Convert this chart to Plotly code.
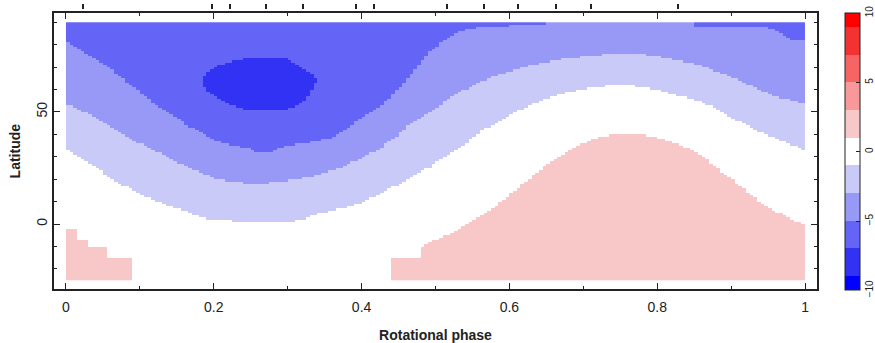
import numpy as np
import plotly.graph_objects as go

# ---- data -----------------------------------------------------------------
# Latitude of each contour boundary versus rotational phase
# boundary between 0 (white) and -2 band
b_m1_phase = [0.0, 0.029, 0.05, 0.074, 0.1, 0.119, 0.14, 0.164, 0.185, 0.203, 0.25, 0.3, 0.32, 0.335,
              0.357, 0.38, 0.402, 0.425, 0.448, 0.47, 0.493, 0.515, 0.538, 0.56, 0.583, 0.605, 0.628,
              0.65, 0.673, 0.695, 0.713, 0.736, 0.759, 0.781, 0.804, 0.826, 0.849, 0.871, 0.894, 0.917,
              0.939, 0.962, 0.984, 1.0]
b_m1_lat = [33, 27.7, 23, 18.1, 13.5, 10.7, 8, 5.5, 3, 1.8, 1.2, 1.2, 1.8, 4,
            5.5, 7.7, 9.9, 13.7, 17.4, 21.8, 25.5, 30.7, 35.2, 41.1, 45.5, 49.5, 53,
            56, 58.2, 59.7, 61, 61.6, 61.7, 61.2, 59.7, 57.5, 56, 52.8, 48.6, 44.8,
            41.1, 38.2, 35.2, 33]
# boundary between -2 and -4 bands
b_m3_phase = [0.0, 0.029, 0.05, 0.074, 0.1, 0.119, 0.14, 0.164, 0.185, 0.203, 0.225, 0.248, 0.27, 0.286,
              0.31, 0.333, 0.357, 0.38, 0.402, 0.425, 0.448, 0.47, 0.493, 0.515, 0.538, 0.56, 0.583,
              0.605, 0.628, 0.65, 0.673, 0.695, 0.713, 0.736, 0.759, 0.781, 0.804, 0.826, 0.849, 0.871,
              0.894, 0.917, 0.939, 0.962, 0.984, 1.0]
b_m3_lat = [53.8, 49.3, 45, 40.4, 36, 33, 29.5, 25.5, 22.5, 20.4, 19, 18.1, 18.2, 18.9,
            20, 21.5, 23.5, 26.3, 30, 33.7, 39.6, 45.6, 50, 55.2, 59.7, 63.4, 66.4,
            68.5, 70.8, 72.3, 73.8, 74.5, 75.3, 75.7, 75.7, 75.6, 74.5, 73, 71.6, 69.3,
            66.4, 63.4, 59.7, 56.7, 55.2, 53.8]
# boundary between -4 and -6 bands (95 = band absent below the pole)
b_m5_phase = [0.0, 0.029, 0.052, 0.074, 0.097, 0.119, 0.142, 0.164, 0.185, 0.203, 0.225, 0.248, 0.26,
              0.275, 0.29, 0.31, 0.331, 0.357, 0.38, 0.402, 0.425, 0.448, 0.47, 0.493, 0.515, 0.538,
              0.56, 0.6, 0.65, 0.66, 0.84, 0.85, 0.91, 0.95, 0.97, 0.984, 1.0]
b_m5_lat = [82, 76, 71.6, 65.6, 59.7, 53.8, 49.3, 44.1, 40.5, 37.4, 35, 33.5, 32,
            32, 34, 35.5, 36.7, 38.2, 42.6, 47.8, 52.3, 59.7, 67.8, 76.7, 82.7, 86.4,
            87.9, 88.5, 89, 95, 95, 88.5, 88, 87.5, 85, 82, 82]
# -8 spot: lower and upper latitude versus phase
spot_phase = [0.184, 0.19, 0.209, 0.232, 0.248, 0.277, 0.300, 0.318, 0.33, 0.339]
spot_lo = [64, 59.7, 55.2, 52.3, 50.8, 50.8, 51.3, 53.8, 58.2, 64]
spot_hi = [64, 67.5, 70.8, 73, 73.8, 73.8, 73.5, 70.1, 67.5, 64]
# upper edge of the +2 (pink) band (-40 = band absent)
b_p1_phase = [0.0, 0.013, 0.014, 0.03, 0.031, 0.055, 0.056, 0.09, 0.091, 0.439, 0.44, 0.48, 0.481,
              0.5, 0.522, 0.549, 0.565, 0.583, 0.605, 0.628, 0.65, 0.668, 0.691, 0.713, 0.736, 0.759,
              0.781, 0.804, 0.826, 0.849, 0.871, 0.894, 0.917, 0.939, 0.962, 0.984, 1.0]
b_p1_lat = [-2, -2, -7, -7, -10, -10, -15, -15, -40, -40, -15.3, -15, -10.1,
            -7.1, -4.1, 1.0, 4.5, 8.5, 14.4, 20.4, 26.3, 30, 34.4, 38.2, 39.6, 39.9,
            39.6, 38.2, 35.9, 33, 27.8, 21.8, 15.9, 9.9, 5.5, 1.8, -0.4]

# observation phases (ticks above the map)
obs_phases = [0.0235, 0.198, 0.2216, 0.2706, 0.3205, 0.3927, 0.417, 0.515, 0.565, 0.612, 0.663, 0.710, 0.828]

level_values = [-10, -8, -6, -4, -2, 0, 2, 4, 6, 8, 10]
level_colors = ['#0000FF', '#3232F4', '#6464F6', '#9898F6', '#CACAF9', '#FFFFFF',
                '#F8C8C8', '#F89898', '#F66464', '#F43232', '#FF0000']
cbar_ticks = [-10, -5, 0, 5, 10]
x_tickvals = [0, 0.2, 0.4, 0.6, 0.8, 1]
x_ticktext = ['0', '0.2', '0.4', '0.6', '0.8', '1']
y_tickvals = [0, 50]

# ---- build the map grid ----------------------------------------------------
n_ph, n_lat = 200, 115
x_edges = np.linspace(0, 1, n_ph + 1)
y_edges = np.linspace(-25, 90, n_lat + 1)
pc = 0.5 * (x_edges[:-1] + x_edges[1:])
lc = 0.5 * (y_edges[:-1] + y_edges[1:])
P, L = np.meshgrid(pc, lc)

bm1 = np.interp(pc, b_m1_phase, b_m1_lat)[None, :]
bm3 = np.interp(pc, b_m3_phase, b_m3_lat)[None, :]
bm5 = np.interp(pc, b_m5_phase, b_m5_lat)[None, :]
bp1 = np.interp(pc, b_p1_phase, b_p1_lat)[None, :]
slo = np.interp(pc, spot_phase, spot_lo)[None, :]
shi = np.interp(pc, spot_phase, spot_hi)[None, :]
in_spot_ph = ((pc >= spot_phase[0]) & (pc <= spot_phase[-1]))[None, :]

Z = np.full(P.shape, float(level_values[2]))
Z[L < bm5] = level_values[3]
Z[L < bm3] = level_values[4]
Z[L < bm1] = level_values[5]
Z[L < bp1] = level_values[6]
Z[(L > slo) & (L < shi) & in_spot_ph] = level_values[1]

# discrete colour scale: each band spans value-1 .. value+1
cs = []
for v, c in zip(level_values, level_colors):
    lo = max(0.0, (v - 1 + 10) / 20)
    hi = min(1.0, (v + 1 + 10) / 20)
    cs.append([lo, c])
    cs.append([hi, c])

FONT = "Liberation Sans"
AX = '#222222'

fig = go.Figure()
fig.add_trace(go.Heatmap(
    x=x_edges, y=y_edges, z=Z, zmin=-10, zmax=10, colorscale=cs, zsmooth=False,
    hoverinfo='skip',
    colorbar=dict(x=1.0367, xanchor='left', xpad=0, y=0.9846, yanchor='top', ypad=0,
                  len=277, lenmode='pixels', thickness=15, thicknessmode='pixels',
                  outlinewidth=1, outlinecolor=AX, tickvals=cbar_ticks,
                  ticks='inside', ticklen=4, tickcolor=AX, tickangle=-90,
                  tickfont=dict(family=FONT, size=10, color=AX)),
))
fig.add_trace(go.Scatter(x=obs_phases, y=[None] * len(obs_phases), xaxis='x2', yaxis='y',
                         mode='markers', showlegend=False, hoverinfo='skip'))

fig.update_layout(
    width=875, height=343,
    margin=dict(l=54, r=58, t=9, b=54, autoexpand=False),
    paper_bgcolor='white', plot_bgcolor='white',
    font=dict(family=FONT, color=AX),
    showlegend=False,
    xaxis=dict(range=[-0.0162, 1.0162], tickvals=x_tickvals, ticktext=x_ticktext,
               ticks='inside', ticklen=6, tickwidth=1.2, tickcolor=AX,
               minor=dict(ticks='inside', ticklen=3, tickwidth=1.2, tick0=0, dtick=0.1, tickcolor=AX, showgrid=False),
               showline=True, linecolor=AX, linewidth=1.5, mirror='ticks',
               showgrid=False, zeroline=False, ticklabelstandoff=4,
               tickfont=dict(family=FONT, size=14, color=AX),
               title=dict(text='<b>Rotational phase</b>', font=dict(family=FONT, size=14, color=AX), standoff=18)),
    xaxis2=dict(range=[-0.0162, 1.0162], overlaying='x', anchor='free', position=1, side='top',
                tickvals=obs_phases, ticks='outside', ticklen=5, tickwidth=1.5, tickcolor=AX,
                showticklabels=False, showline=False, showgrid=False, zeroline=False),
    yaxis=dict(range=[-29, 94], domain=[0, 0.9846], tickvals=y_tickvals, tickangle=-90,
               ticks='inside', ticklen=6, tickwidth=1.2, tickcolor=AX,
               minor=dict(ticks='inside', ticklen=3, tickwidth=1.2, tick0=0, dtick=10, tickcolor=AX, showgrid=False),
               showline=True, linecolor=AX, linewidth=1.5, mirror='ticks',
               showgrid=False, zeroline=False,
               tickfont=dict(family=FONT, size=14, color=AX),
               title=dict(text='<b>Latitude</b>', font=dict(family=FONT, size=14, color=AX), standoff=10)),
)

fig.write_html("out.html")
